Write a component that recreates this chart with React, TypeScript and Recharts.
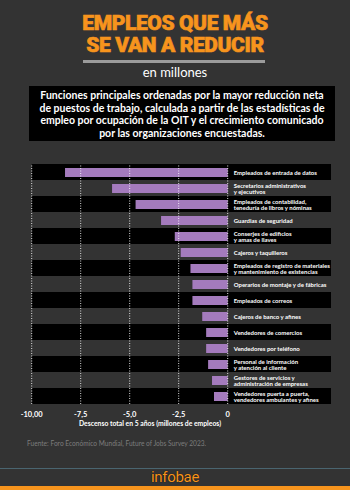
import React from 'react';
import {
  BarChart,
  Bar,
  XAxis,
  YAxis,
  ReferenceArea,
  ReferenceLine,
} from 'recharts';

const ocupaciones = [
  'Empleados de entrada de datos',
  'Secretarios administrativos\ny ejecutivos',
  'Empleados de contabilidad,\nteneduría de libros y nóminas',
  'Guardias de seguridad',
  'Conserjes de edificios\ny amas de llaves',
  'Cajeros y taquilleros',
  'Empleados de registro de materiales\ny mantenimiento de existencias',
  'Operarios de montaje y de fábricas',
  'Empleados de correos',
  'Cajeros de banco y afines',
  'Vendedores de comercios',
  'Vendedores por teléfono',
  'Personal de información\ny atención al cliente',
  'Gestores de servicios y\nadministración de empresas',
  'Vendedores puerta a puerta,\nvendedores ambulantes y afines',
];

// descenso en millones de empleos (5 años)
const descenso = [-8.3, -5.9, -4.7, -3.4, -2.7, -2.4, -1.9, -1.8, -1.8, -1.3, -1.1, -1.1, -1.0, -0.8, -0.7];

const ticks = [-10, -7.5, -5, -2.5, 0];
const tickLabels = ['-10,00', '-7,5', '-5,0', '-2,5', '0'];

const data = ocupaciones.map((name, i) => ({ name, value: descenso[i] }));

const ORANGE = '#f7941d';
const PURPLE = '#a47bbd';
const BG = '#333333';

const OcupacionTick = (props: any) => {
  const { x, y, payload } = props;
  const lines: string[] = String(payload.value).split('\n');
  const start = y - ((lines.length - 1) * 6.7) / 2;
  return (
    <text
      x={x}
      y={start}
      fill="#ffffff"
      fontSize={6}
      fontWeight={700}
      fontFamily="Lato, sans-serif"
      dominantBaseline="central"
    >
      {lines.map((l, i) => (
        <tspan key={i} x={x} dy={i === 0 ? 0 : 6.7}>
          {l}
        </tspan>
      ))}
    </text>
  );
};

export default function App() {
  return (
    <div
      style={{
        position: 'relative',
        width: 350,
        height: 490,
        background: BG,
        overflow: 'hidden',
        fontFamily: 'Lato, sans-serif',
      }}
    >
      <style>{'body{margin:0}'}</style>

      <div
        style={{
          position: 'absolute',
          top: 12,
          left: 0,
          width: 350,
          textAlign: 'center',
          color: ORANGE,
          fontFamily: 'Roboto, sans-serif',
          fontWeight: 900,
          fontSize: 21,
          lineHeight: '22px',
          letterSpacing: -0.4,
          WebkitTextStroke: '0.6px ' + ORANGE,
        }}
      >
        EMPLEOS QUE MÁS
        <br />
        SE VAN A REDUCIR
      </div>
      <div style={{ position: 'absolute', top: 60, left: 83, width: 182, height: 3, background: '#9b9b9b' }} />
      <div
        style={{
          position: 'absolute',
          top: 64,
          left: 0,
          width: 350,
          textAlign: 'center',
          color: '#fff',
          fontSize: 13,
          lineHeight: '17px',
        }}
      >
        en millones
      </div>

      <div
        style={{
          position: 'absolute',
          top: 86,
          left: 29,
          width: 306,
          height: 55,
          background: '#000',
          color: '#fff',
          fontWeight: 700,
          fontSize: 10.5,
          lineHeight: '12.7px',
          textAlign: 'center',
          boxSizing: 'border-box',
          paddingTop: 3,
        }}
      >
        Funciones principales ordenadas por la mayor reducción neta
        <br />
        de puestos de trabajo, calculada a partir de las estadísticas de
        <br />
        empleo por ocupación de la OIT y el crecimiento comunicado
        <br />
        por las organizaciones encuestadas.
      </div>

      <div style={{ position: 'absolute', top: 160, left: 0 }}>
        <BarChart
          width={350}
          height={270}
          data={data}
          layout="vertical"
          margin={{ top: 4, right: 19, bottom: 0, left: 31.7 }}
          barSize={9}
        >
          {data.map((d, i) =>
            i % 2 === 0 ? (
              <ReferenceArea
                key={d.name}
                y1={d.name}
                y2={d.name}
                x1={-10}
                x2={5.27}
                ifOverflow="visible"
                fill="#000"
                fillOpacity={1}
                stroke="none"
                zIndex={-200}
              />
            ) : null
          )}
          <XAxis
            type="number"
            domain={[-10, 0]}
            ticks={ticks}
            tickFormatter={(v: number) => tickLabels[ticks.indexOf(v)]}
            axisLine={false}
            tickLine={false}
            height={26}
            tick={{ fill: '#fff', fontSize: 7.5, fontWeight: 700, fontFamily: 'Lato, sans-serif' }}
          />
          <YAxis
            type="category"
            dataKey="name"
            orientation="right"
            width={103.3}
            axisLine={false}
            tickLine={false}
            tickSize={6}
            tickMargin={0}
            interval={0}
            tick={<OcupacionTick />}
          />
          <Bar dataKey="value" fill={PURPLE} isAnimationActive={false} />
          {ticks.map((t) => (
            <ReferenceLine
              key={t}
              x={t}
              stroke="#ffffff"
              strokeOpacity={0.85}
              strokeDasharray="1 1.5"
              zIndex={350}
            />
          ))}
        </BarChart>
      </div>

      <div
        style={{
          position: 'absolute',
          top: 418,
          left: 79,
          color: '#fff',
          fontSize: 6.8,
          fontWeight: 700,
          lineHeight: '10px',
        }}
      >
        Descenso total en 5 años (millones de empleos)
      </div>

      <div
        style={{
          position: 'absolute',
          top: 439,
          left: 27,
          color: '#7d7d7d',
          fontSize: 6.6,
          lineHeight: '9px',
        }}
      >
        Fuente: Foro Económico Mundial, Future of Jobs Survey 2023.
      </div>

      <div style={{ position: 'absolute', top: 468, left: 0, width: 350, height: 1, background: '#4a6570' }} />
      <div
        style={{
          position: 'absolute',
          top: 469,
          left: 0,
          width: 350,
          textAlign: 'center',
          color: ORANGE,
          fontSize: 15,
          lineHeight: '17px',
          fontFamily: 'Roboto, sans-serif',
          textShadow: '0 0 1px #000',
          letterSpacing: -0.3,
        }}
      >
        infobae
      </div>
      <div style={{ position: 'absolute', top: 486, left: 0, width: 350, height: 4, background: ORANGE }} />
    </div>
  );
}
